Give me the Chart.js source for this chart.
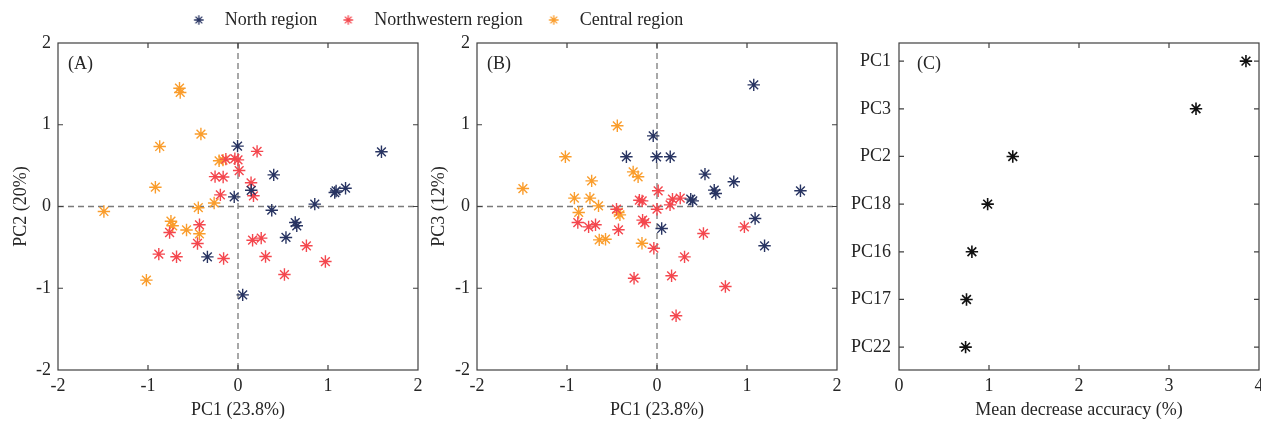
<!DOCTYPE html>
<html><head><meta charset="utf-8">
<script src="https://cdn.jsdelivr.net/npm/chart.js@4.4.1/dist/chart.umd.min.js"></script>
<style>
html,body{margin:0;padding:0;background:#fff;}
#wrap{position:relative;width:1261px;height:422px;overflow:hidden;background:#fff;}
canvas{position:absolute;}
</style></head><body>
<div id="wrap">
<canvas id="cA" width="430" height="422" style="left:0;top:0"></canvas>
<canvas id="cB" width="420" height="422" style="left:425px;top:0"></canvas>
<canvas id="cC" width="416" height="422" style="left:845px;top:0"></canvas>
<canvas id="cL" width="881" height="120" style="left:0;top:-19px"></canvas>
</div>
<script>
// ---- data ----
const regions = ['North region', 'Northwestern region', 'Central region'];
const regionColors = ['#283462', '#f4474e', '#fa9d2c'];

const northPC1 = [1.594, 1.195, 1.075, 1.09, 0.853, 0.636, 0.653, 0.533, 0.397, 0.375, -0.34, 0.052, 0.147, -0.005, -0.042];
const northPC2 = [0.669, 0.224, 0.171, 0.19, 0.029, -0.196, -0.236, -0.379, 0.387, -0.045, -0.616, -1.081, 0.198, 0.738, 0.118];
const northPC3 = [0.192, -0.481, 1.488, -0.147, 0.302, 0.2, 0.159, 0.396, 0.069, 0.09, 0.608, -0.269, 0.608, 0.608, 0.864];

const nwPC1 = [-0.88, -0.76, -0.683, -0.45, -0.428, -0.255, -0.196, -0.165, -0.16, -0.135, -0.035, 0.0, 0.013, 0.145, 0.162, 0.172, 0.212, 0.258, 0.306, 0.516, 0.76, 0.971];
const nwPC2 = [-0.583, -0.318, -0.615, -0.452, -0.224, 0.365, 0.142, 0.36, -0.636, 0.58, 0.585, 0.57, 0.44, 0.29, -0.412, 0.131, 0.674, -0.387, -0.612, -0.832, -0.481, -0.673];
const nwPC3 = [-0.196, -0.249, -0.224, -0.033, -0.285, -0.877, 0.077, 0.069, -0.167, -0.196, -0.51, -0.033, 0.192, 0.02, -0.848, 0.09, -1.337, 0.102, -0.616, -0.33, -0.979, -0.249];

const centralPC1 = [-1.49, -1.018, -0.918, -0.87, -0.745, -0.726, -0.65, -0.642, -0.572, -0.441, -0.429, -0.412, -0.265, -0.21, -0.167];
const centralPC2 = [-0.061, -0.901, 0.236, 0.734, -0.18, -0.236, 1.447, 1.395, -0.287, -0.015, -0.334, 0.886, 0.043, 0.559, 0.567];
const centralPC3 = [0.22, 0.608, 0.102, -0.073, 0.102, 0.314, 0.008, -0.408, -0.4, 0.987, -0.073, -0.102, 0.424, 0.363, -0.449];

const pcTicks = [-2, -1, 0, 1, 2];
const mdaLabels = ['PC1', 'PC3', 'PC2', 'PC18', 'PC16', 'PC17', 'PC22'];
const mdaValues = [3.855, 3.30, 1.264, 0.985, 0.81, 0.75, 0.74];
const mdaTicks = [0, 1, 2, 3, 4];

// ---- style ----
const FONT = {family: "'Liberation Serif','Times New Roman',serif", size: 18};
const TXT = '#262626';
Chart.defaults.font.family = FONT.family;
Chart.defaults.font.size = FONT.size;
Chart.defaults.color = TXT;

const pts = (xs, ys) => xs.map((x, i) => ({x: x, y: ys[i]}));

function starSet(label, data, color) {
  return {label, data, pointStyle: 'star', pointRadius: 6.2, pointHoverRadius: 6.2,
    borderColor: color, backgroundColor: color, pointBorderWidth: 1.4, showLine: false};
}

function xAxis(title, min, max, tickVals) {
  return {type: 'linear', position: 'bottom', min, max,
    afterBuildTicks: s => { s.ticks = tickVals.map(v => ({value: v})); },
    afterFit: s => { s.height = 52; s.paddingLeft = 0; s.paddingRight = 0; },
    grid: {display: false, drawTicks: false}, border: {display: false},
    ticks: {padding: 5, color: TXT, font: FONT, maxRotation: 0, autoSkip: false},
    title: {display: true, text: title, color: TXT, font: FONT, padding: {top: 0, bottom: 1}}};
}
function yAxis(title, min, max, tickVals, width, tpad, extra) {
  const ax = {type: 'linear', position: 'left', min, max,
    afterBuildTicks: s => { s.ticks = tickVals.map(v => ({value: v})); },
    afterFit: s => { s.width = width; s.paddingTop = 0; s.paddingBottom = 0; },
    grid: {display: false, drawTicks: false}, border: {display: false},
    ticks: {padding: 7, color: TXT, font: FONT, autoSkip: false},
    title: {display: !!title, text: title || '', color: TXT, font: FONT, padding: {top: tpad, bottom: 0}}};
  return Object.assign(ax, extra || {});
}

const framePlugin = {
  id: 'frame',
  beforeDatasetsDraw(chart, args, opts) {
    const ctx = chart.ctx;
    const {left, right, top, bottom} = chart.chartArea;
    const xs = chart.scales.x, ys = chart.scales.y;
    ctx.save();
    if (opts.zero) {
      ctx.strokeStyle = '#7a7a7a'; ctx.lineWidth = 1.3; ctx.setLineDash([6, 4]);
      const zx = xs.getPixelForValue(0), zy = ys.getPixelForValue(0);
      ctx.beginPath(); ctx.moveTo(zx, top); ctx.lineTo(zx, bottom); ctx.stroke();
      ctx.beginPath(); ctx.moveTo(left, zy); ctx.lineTo(right, zy); ctx.stroke();
      ctx.setLineDash([]);
    }
    ctx.strokeStyle = '#404040'; ctx.lineWidth = 1.2;
    ctx.strokeRect(left, top, right - left, bottom - top);
    const L = 5;
    ctx.beginPath();
    xs.ticks.forEach(t => {
      const p = xs.getPixelForValue(t.value);
      if (p <= left + 1 || p >= right - 1) return;
      ctx.moveTo(p, bottom); ctx.lineTo(p, bottom - L);
      ctx.moveTo(p, top); ctx.lineTo(p, top + L);
    });
    ys.ticks.forEach(t => {
      const p = ys.getPixelForValue(t.value);
      if (p <= top + 1 || p >= bottom - 1) return;
      ctx.moveTo(left, p); ctx.lineTo(left + L, p);
      ctx.moveTo(right, p); ctx.lineTo(right - L, p);
    });
    ctx.stroke();
    ctx.fillStyle = TXT;
    ctx.font = FONT.size + 'px ' + FONT.family;
    ctx.textBaseline = 'middle'; ctx.textAlign = 'left';
    ctx.fillText(opts.label, left + opts.dx, top + 21);
    ctx.restore();
  }
};

const baseOpts = {responsive: false, animation: false, events: []};

function mk(id, cfg) { return new Chart(document.getElementById(id), cfg); }

// Panel A
mk('cA', {type: 'scatter', plugins: [framePlugin],
  data: {datasets: [
    starSet(regions[0], pts(northPC1, northPC2), regionColors[0]),
    starSet(regions[1], pts(nwPC1, nwPC2), regionColors[1]),
    starSet(regions[2], pts(centralPC1, centralPC2), regionColors[2])]},
  options: Object.assign({}, baseOpts, {
    layout: {autoPadding: false, padding: {top: 43, right: 12, left: 0, bottom: 0}},
    scales: {x: xAxis('PC1 (23.8%)', -2, 2, pcTicks), y: yAxis('PC2 (20%)', -2, 2, pcTicks, 58, 10)},
    plugins: {legend: {display: false}, tooltip: {enabled: false}, frame: {zero: true, label: '(A)', dx: 10}}})
});

// Panel B
mk('cB', {type: 'scatter', plugins: [framePlugin],
  data: {datasets: [
    starSet(regions[0], pts(northPC1, northPC3), regionColors[0]),
    starSet(regions[1], pts(nwPC1, nwPC3), regionColors[1]),
    starSet(regions[2], pts(centralPC1, centralPC3), regionColors[2])]},
  options: Object.assign({}, baseOpts, {
    layout: {autoPadding: false, padding: {top: 43, right: 8, left: 0, bottom: 0}},
    scales: {x: xAxis('PC1 (23.8%)', -2, 2, pcTicks), y: yAxis('PC3 (12%)', -2, 2, pcTicks, 52, 3)},
    plugins: {legend: {display: false}, tooltip: {enabled: false}, frame: {zero: true, label: '(B)', dx: 10}}})
});

// Panel C
mk('cC', {type: 'scatter', plugins: [framePlugin],
  data: {datasets: [{label: 'Mean decrease accuracy',
    data: mdaValues.map((v, i) => ({x: v, y: i + 1})),
    pointStyle: 'star', pointRadius: 6.2, pointHoverRadius: 6.2,
    borderColor: '#111', backgroundColor: '#111', pointBorderWidth: 1.6}]},
  options: Object.assign({}, baseOpts, {
    layout: {autoPadding: false, padding: {top: 43, right: 2, left: 0, bottom: 0}},
    scales: {
      x: xAxis('Mean decrease accuracy (%)', 0, 4, mdaTicks),
      y: yAxis('', 0.62, 7.48, mdaLabels.map((_, i) => i + 1), 54, 0,
        {reverse: true, ticks: {padding: 8, color: TXT, font: FONT, autoSkip: false,
          callback: v => mdaLabels[v - 1]}})},
    plugins: {legend: {display: false}, tooltip: {enabled: false}, frame: {zero: false, label: '(C)', dx: 18}}})
});

// Legend
function legendIcon(color) {
  const c = document.createElement('canvas');
  c.width = 30; c.height = 16;
  const g = c.getContext('2d');
  g.strokeStyle = color; g.lineWidth = 1.3;
  const cx = 7, cy = 8, r = 4.8;
  g.beginPath();
  for (let k = 0; k < 4; k++) {
    const a = k * Math.PI / 4;
    g.moveTo(cx - r * Math.cos(a), cy - r * Math.sin(a));
    g.lineTo(cx + r * Math.cos(a), cy + r * Math.sin(a));
  }
  g.stroke();
  return c;
}
const legendIcons = regionColors.map(legendIcon);

mk('cL', {type: 'scatter',
  data: {datasets: regions.map((r, i) => ({label: r, data: [], borderColor: regionColors[i], backgroundColor: regionColors[i]}))},
  options: {responsive: false, animation: false, events: [],
    layout: {padding: 0},
    scales: {x: {display: false}, y: {display: false}},
    plugins: {tooltip: {enabled: false},
      legend: {display: true, position: 'top', align: 'center', maxHeight: 100,
        labels: {usePointStyle: true, boxWidth: 18, padding: 30, font: FONT, color: TXT,
          generateLabels: chart => chart.data.datasets.map((ds, i) => ({
            text: ds.label, pointStyle: legendIcons[i], fillStyle: regionColors[i],
            strokeStyle: regionColors[i], lineWidth: 0, hidden: false, datasetIndex: i, fontColor: TXT}))}}}}
});
</script>
</body></html>
